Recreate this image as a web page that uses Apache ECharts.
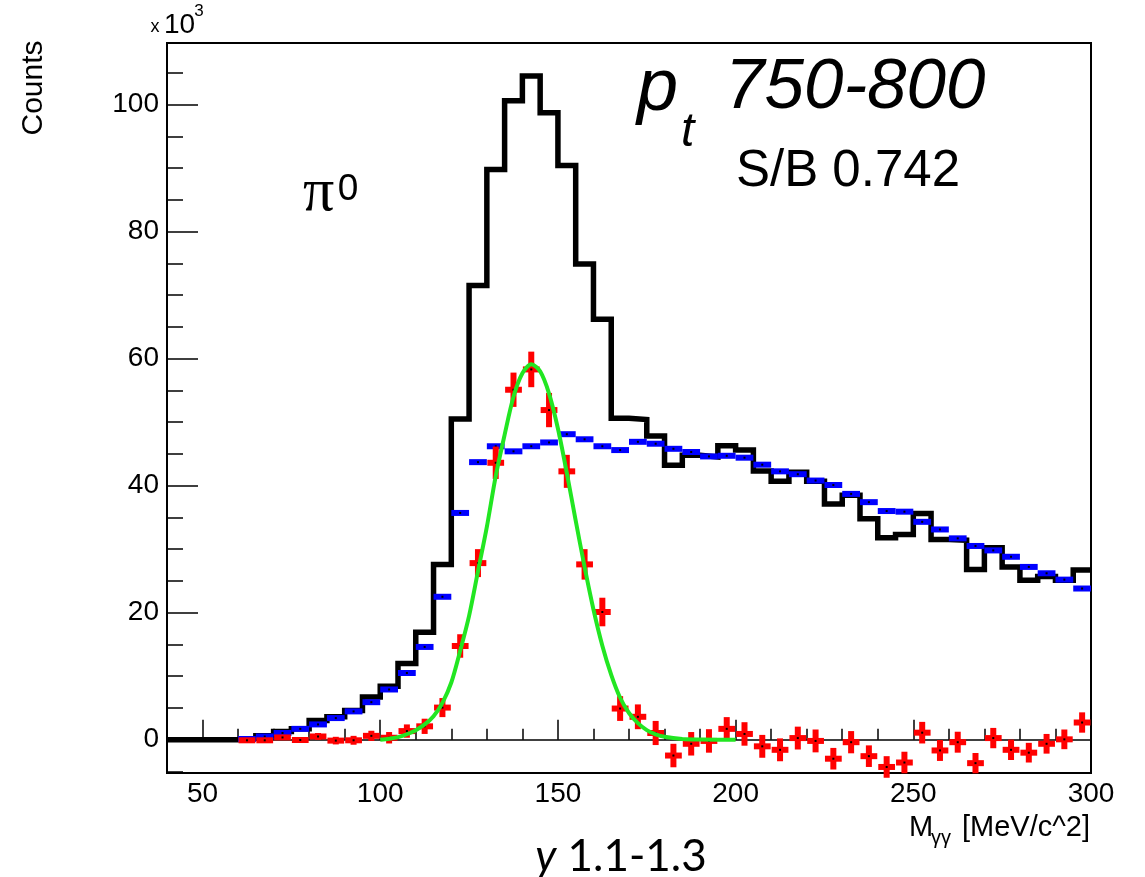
<!DOCTYPE html>
<html><head><meta charset="utf-8">
<script src="https://cdn.jsdelivr.net/npm/echarts@6/dist/echarts.min.js"></script>
<style>html,body{margin:0;padding:0;background:#fff}#c{width:1145px;height:877px}</style>
</head><body><div id="c"></div>
<script>
// ---- data (x in MeV/c^2, counts in units of 10^3) ----
const binLow = [40,45,50,55,60,65,70,75,80,85,90,95,100,105,110,115,120,125,130,135,140,145,150,155,160,165,170,175,180,185,190,195,200,205,210,215,220,225,230,235,240,245,250,255,260,265,270,275,280,285,290,295];
const binWidth = 5;
const total = [0,0,0,0,0.2,0.6,1.3,1.7,3.0,3.6,4.6,6.7,8.4,12.0,16.9,27.6,50.5,71.5,89.8,100.6,104.5,98.7,90.4,74.9,66.2,50.6,50.4,47.8,43.2,44.8,44.5,46.3,45.6,42.3,40.7,42.1,40.7,37.1,38.5,34.8,31.8,32.3,35.6,31.5,31.4,26.8,30.2,27.2,25.1,25.7,25.1,26.7];
const background = [null,null,null,null,0.1,0.5,1.05,1.7,2.4,3.4,4.45,5.9,7.9,10.5,14.6,22.5,35.7,43.7,46.2,45.4,46.2,46.8,48.1,47.3,46.2,45.6,46.9,46.6,45.8,45.3,44.6,44.7,44.4,43.3,42.25,41.8,40.8,40.1,38.7,37.4,36.0,35.9,34.3,33.1,31.7,30.5,29.8,28.8,27.2,26.2,25.2,23.8];
const signal = [null,null,null,null,-0.1,-0.1,0.35,-0.05,0.5,-0.15,-0.1,0.6,0.3,1.35,2.1,5.05,14.75,27.8,43.6,55.1,58.3,51.9,42.25,27.6,20.1,4.9,3.6,1.05,-2.5,-0.65,-0.2,1.7,0.9,-1.05,-1.6,0.25,-0.2,-3.0,-0.4,-2.6,-4.3,-3.6,1.1,-1.7,-0.4,-3.7,0.25,-1.6,-2.05,-0.65,0.05,2.7];
const signalErr = [null,null,null,null,0.3,0.35,0.4,0.45,0.55,0.6,0.7,0.8,0.9,1.05,1.2,1.5,1.85,2.2,2.55,2.7,2.8,2.7,2.6,2.4,2.25,1.95,1.95,1.9,1.85,1.85,1.85,1.85,1.85,1.8,1.8,1.8,1.8,1.7,1.75,1.7,1.7,1.7,1.7,1.65,1.65,1.6,1.6,1.6,1.55,1.55,1.55,1.6];
const fitX = [100,102.5,105,107.5,110,112.5,115,117.5,120,122.5,125,127.5,130,132.5,135,137.5,140,142.5,145,147.5,150,152.5,155,157.5,160,162.5,165,167.5,170,172.5,175,177.5,180,185,190,195,200];
const fitY = [0,0.15,0.4,0.85,1.5,2.4,3.7,5.8,9.0,14.0,19.5,26.5,33.5,41.5,48.0,54.0,57.7,59.1,58.0,54.5,49.0,42.0,34.5,27.2,20.5,14.8,10.2,6.6,4.2,2.6,1.5,0.85,0.45,0.1,0.02,0,0];
const xTickLabels = [50,100,150,200,250,300];
const yTickLabels = [0,20,40,60,80,100];
const yMinorTicks = [-5,5,10,15,25,30,35,45,50,55,65,70,75,85,90,95,105];

// ---- build ----
const stepData = binLow.map((x,i)=>[x,total[i]]).concat([[binLow[binLow.length-1]+binWidth,total[total.length-1]]]);
const bgData = []; binLow.forEach((x,i)=>{ if(background[i]!=null) bgData.push([x,x+binWidth,background[i]]); });
const sigData = []; binLow.forEach((x,i)=>{ if(signal[i]!=null) sigData.push([x,x+binWidth,signal[i],signalErr[i]]); });
const fitData = fitX.map((x,i)=>[x,fitY[i]]);

function renderBg(params, api){
  const a=api.coord([api.value(0),api.value(2)]), b=api.coord([api.value(1),api.value(2)]);
  const cx=(a[0]+b[0])/2;
  return {type:'group',children:[
    {type:'rect',shape:{x:a[0],y:a[1]-3,width:b[0]-a[0],height:6},style:{fill:'#0000ff'}},
    {type:'rect',shape:{x:cx-1,y:a[1]-1,width:2,height:2},style:{fill:'#000'}}
  ]};
}
function renderSig(params, api){
  const x0=api.value(0), x1=api.value(1), y=api.value(2), e=api.value(3);
  const a=api.coord([x0,y]), b=api.coord([x1,y]);
  const top=api.coord([x0,y+e])[1], bot=api.coord([x0,y-e])[1];
  const cx=(a[0]+b[0])/2;
  return {type:'group',children:[
    {type:'rect',shape:{x:a[0]+0.5,y:a[1]-3,width:b[0]-a[0]-1,height:6},style:{fill:'#ff0000'}},
    {type:'rect',shape:{x:cx-3,y:top,width:6,height:bot-top},style:{fill:'#ff0000'}},
    {type:'rect',shape:{x:cx-1,y:a[1]-1,width:2,height:2},style:{fill:'#000'}}
  ]};
}

const F = '"Liberation Sans", Arial, sans-serif';
const chart = echarts.init(document.getElementById('c'));
chart.setOption({
  animation:false,
  backgroundColor:'#fff',
  grid:{left:167,top:43,width:924,height:730,show:true,borderColor:'#000',borderWidth:2,backgroundColor:'transparent'},
  xAxis:[
    {type:'value',min:40,max:300,position:'bottom',
     axisLine:{show:false},splitLine:{show:false},
     axisTick:{show:true,inside:true,length:20,customValues:xTickLabels,lineStyle:{color:'#000',width:1.5}},
     axisLabel:{show:true,customValues:xTickLabels,fontSize:28,fontFamily:F,color:'#000',margin:7}},
    {type:'value',min:40,max:300,interval:10,position:'bottom',
     axisLine:{show:false},splitLine:{show:false},
     axisTick:{show:true,inside:true,length:11,lineStyle:{color:'#000',width:1.5}},
     axisLabel:{show:false}}
  ],
  yAxis:[
    {type:'value',min:-5.25,max:109.7,position:'left',
     axisLine:{show:false},splitLine:{show:false},
     axisTick:{show:true,inside:true,length:31,customValues:yTickLabels,lineStyle:{color:'#000',width:1.5}},
     axisLabel:{show:true,customValues:yTickLabels,fontSize:28,fontFamily:F,color:'#000',margin:8}},
    {type:'value',min:-5.25,max:109.7,position:'left',
     axisLine:{show:false},splitLine:{show:false},
     axisTick:{show:true,inside:true,length:16,customValues:yMinorTicks,lineStyle:{color:'#000',width:1.5}},
     axisLabel:{show:false}}
  ],
  series:[
    {type:'line',name:'total',data:stepData,step:'end',showSymbol:false,symbol:'none',
     lineStyle:{color:'#000',width:5.5,join:'miter'},z:2,
     markLine:{silent:true,symbol:'none',label:{show:false},lineStyle:{color:'#000',width:1.5,type:'solid'},data:[{yAxis:0}],z:1}},
    {type:'custom',name:'background',data:bgData,renderItem:renderBg,encode:{x:[0,1],y:2},z:3},
    {type:'custom',name:'signal',data:sigData,renderItem:renderSig,encode:{x:[0,1],y:[2]},z:4},
    {type:'line',name:'fit',data:fitData,smooth:0.3,showSymbol:false,symbol:'none',
     lineStyle:{color:'#22e622',width:4},z:5}
  ],
  graphic:[
    {type:'text',x:34,y:88,rotation:Math.PI/2,style:{text:'Counts',font:'30px '+F,fill:'#000',align:'center',verticalAlign:'middle'}},
    {type:'text',x:155,y:27,style:{text:'x',font:'18px '+F,fill:'#000',align:'center',verticalAlign:'middle'}},
    {type:'text',x:179.5,y:25,style:{text:'10',font:'28px '+F,fill:'#000',align:'center',verticalAlign:'middle'}},
    {type:'text',x:199,y:11,style:{text:'3',font:'17px '+F,fill:'#000',align:'center',verticalAlign:'middle'}},
    {type:'text',x:303,y:194,style:{text:'π',font:'62px "Liberation Serif", serif',fill:'#000',align:'left',verticalAlign:'middle'}},
    {type:'text',x:348,y:189.5,style:{text:'0',font:'37px '+F,fill:'#000',align:'center',verticalAlign:'middle'}},
    {type:'text',x:637,y:89,style:{text:'p',font:'italic 74px '+F,fill:'#000',align:'left',verticalAlign:'middle'}},
    {type:'text',x:681,y:133,style:{text:'t',font:'italic 48px '+F,fill:'#000',align:'left',verticalAlign:'middle'}},
    {type:'text',x:725,y:88,style:{text:'750-800',font:'italic 71px '+F,fill:'#000',align:'left',verticalAlign:'middle'}},
    {type:'text',x:736,y:172,style:{text:'S/B 0.742',font:'51px '+F,fill:'#000',align:'left',verticalAlign:'middle'}},
    {type:'text',x:1090,y:828,style:{text:'[MeV/c^2]',font:'29px '+F,fill:'#000',align:'right',verticalAlign:'middle'}},
    {type:'text',x:941,y:838,style:{text:'γγ',font:'20px '+F,fill:'#000',align:'center',verticalAlign:'middle'}},
    {type:'text',x:921,y:828,style:{text:'M',font:'29px '+F,fill:'#000',align:'center',verticalAlign:'middle'}},
    {type:'text',x:621,y:857,style:{rich:{i:{font:'italic 44px Lato, sans-serif',fill:'#000'},n:{font:'44px Lato, sans-serif',fill:'#000'}},text:'{i|y}{n| 1.1-1.3}',align:'center',verticalAlign:'middle'}}
  ]
});
</script></body></html>
